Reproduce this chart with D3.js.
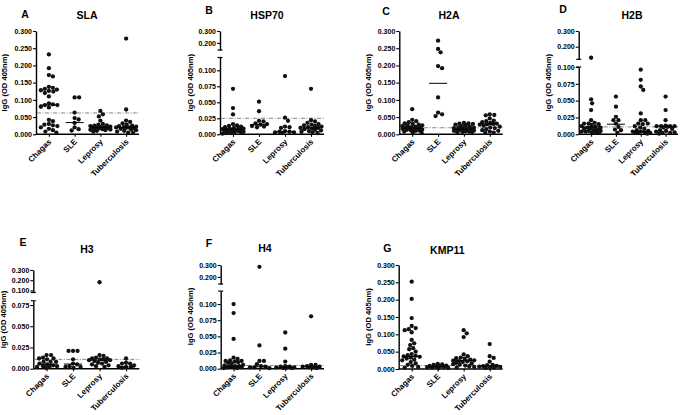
<!DOCTYPE html>
<html><head><meta charset="utf-8">
<script src="https://cdn.jsdelivr.net/npm/d3@7"></script>
<style>
html,body{margin:0;padding:0;background:#fff;}
svg text{font-family:"Liberation Sans",Arial,sans-serif;font-weight:bold;fill:#000;}
</style></head>
<body><svg id="chart" width="686" height="415"></svg>
<script>
// ---------------- DATA ----------------
const categories = ["Chagas", "SLE", "Leprosy", "Tuberculosis"];
const panelLetters = ["A", "B", "C", "D", "E", "F", "G"];
const antigens = ["SLA", "HSP70", "H2A", "H2B", "H3", "H4", "KMP11"];
const yAxisTitle = "IgG (OD 405nm)";

const slaValues = [
  [0.232,0.192,0.172,0.168,0.138,0.135,0.132,0.130,0.128,0.126,0.124,0.120,0.110,0.090,0.087,0.085,0.085,0.080,0.078,0.042,0.038,0.030,0.028,0.026,0.024,0.020,0.016,0.012,0.008,0.005],
  [0.107,0.107,0.063,0.047,0.043,0.033,0.020,0.015,0.011],
  [0.068,0.058,0.052,0.040,0.030,0.028,0.026,0.025,0.024,0.022,0.021,0.020,0.020,0.019,0.018,0.017,0.016,0.015,0.014,0.013,0.012,0.010,0.008],
  [0.278,0.072,0.040,0.036,0.032,0.028,0.025,0.024,0.022,0.021,0.020,0.020,0.019,0.018,0.016,0.014,0.012,0.010,0.008,0.005,0.004]
];
const hsp70Values = [
  [0.071,0.041,0.031,0.016,0.014,0.013,0.012,0.011,0.010,0.010,0.009,0.008,0.008,0.007,0.007,0.006,0.006,0.005,0.005,0.004,0.004,0.003,0.003,0.002,0.002,0.001],
  [0.051,0.036,0.021,0.020,0.017,0.016,0.015,0.013,0.012,0.011],
  [0.091,0.026,0.021,0.012,0.011,0.010,0.005,0.004,0.004,0.003,0.003,0.002],
  [0.071,0.022,0.020,0.018,0.016,0.015,0.014,0.013,0.012,0.011,0.010,0.010,0.009,0.008,0.007,0.006,0.005,0.004,0.003,0.002]
];
const h2aValues = [
  [0.073,0.042,0.038,0.035,0.032,0.030,0.028,0.026,0.025,0.024,0.022,0.021,0.020,0.019,0.018,0.017,0.016,0.015,0.014,0.013,0.012,0.011,0.010,0.008,0.006,0.004],
  [0.272,0.248,0.238,0.198,0.192,0.107,0.063,0.058,0.053],
  [0.033,0.032,0.031,0.030,0.028,0.026,0.024,0.022,0.020,0.019,0.018,0.017,0.016,0.015,0.014,0.013,0.012,0.011,0.010,0.009,0.008,0.007,0.006,0.005],
  [0.058,0.056,0.055,0.046,0.040,0.038,0.035,0.033,0.031,0.030,0.029,0.028,0.025,0.022,0.020,0.018,0.015,0.012,0.010,0.008,0.005,0.004]
];
const h2bValues = [
  [0.130,0.052,0.046,0.036,0.021,0.017,0.016,0.016,0.015,0.014,0.012,0.011,0.010,0.010,0.009,0.008,0.007,0.006,0.005,0.005,0.004,0.004,0.003,0.003,0.002,0.002],
  [0.056,0.041,0.026,0.021,0.021,0.016,0.011,0.007,0.006,0.002],
  [0.096,0.081,0.071,0.066,0.031,0.021,0.021,0.016,0.016,0.015,0.012,0.010,0.008,0.006,0.005,0.004,0.004,0.003,0.003,0.002,0.002,0.001],
  [0.056,0.036,0.021,0.013,0.012,0.012,0.012,0.012,0.011,0.010,0.008,0.006,0.005,0.004,0.003,0.002,0.002,0.001]
];
const h3Values = [
  [0.016,0.016,0.013,0.012,0.012,0.011,0.008,0.008,0.008,0.006,0.005,0.004,0.003,0.003,0.002,0.002,0.001],
  [0.021,0.021,0.021,0.011,0.006,0.005,0.003,0.002,0.002,0.001],
  [0.180,0.016,0.015,0.013,0.012,0.012,0.011,0.011,0.010,0.010,0.009,0.008,0.007,0.006,0.005,0.004,0.003,0.002],
  [0.012,0.007,0.006,0.006,0.004,0.003,0.002,0.002,0.001]
];
const h4Values = [
  [0.100,0.086,0.046,0.017,0.015,0.013,0.012,0.012,0.011,0.010,0.009,0.008,0.006,0.005,0.004,0.004,0.003,0.003,0.002,0.002,0.001,0.001],
  [0.285,0.036,0.012,0.012,0.007,0.004,0.003,0.002,0.002,0.001],
  [0.056,0.031,0.011,0.004,0.003,0.003,0.002,0.002,0.002,0.001,0.001],
  [0.081,0.006,0.006,0.004,0.003,0.003,0.002,0.002,0.001]
];
const kmp11Values = [
  [0.252,0.202,0.147,0.124,0.118,0.115,0.112,0.106,0.084,0.074,0.069,0.060,0.057,0.050,0.043,0.040,0.038,0.036,0.035,0.033,0.030,0.027,0.025,0.020,0.016,0.012,0.009,0.006,0.004],
  [0.015,0.013,0.012,0.010,0.009,0.008,0.007,0.006,0.005,0.004,0.003,0.002],
  [0.112,0.103,0.092,0.042,0.037,0.033,0.031,0.029,0.027,0.025,0.024,0.023,0.022,0.020,0.018,0.016,0.014,0.012,0.010,0.008,0.006,0.004],
  [0.072,0.037,0.032,0.021,0.012,0.011,0.009,0.008,0.007,0.006,0.005,0.004,0.003]
];
const panelValues = [slaValues, hsp70Values, h2aValues, h2bValues, h3Values, h4Values, kmp11Values];

// horizontal summary line per group
const medianLines = [
  [0.085, 0.034, 0.020, 0.020],
  [0.008, 0.015, 0.004, 0.010],
  [0.018, 0.148, 0.015, 0.030],
  [0.011, 0.015, 0.004, 0.012],
  [0.005, 0.0055, 0.010, 0.002],
  [0.003, 0.003, 0.002, 0.003],
  [0.036, 0.006, 0.024, 0.009]
];
// dash-dot cut-off line per antigen
const cutoffValues = [0.062, 0.025, 0.019, 0.011, 0.011, 0.005, 0.010];

// tick labels
const fullTicks = [0, 0.05, 0.10, 0.15, 0.20, 0.25, 0.30];
const brokenLowerTicks = [0, 0.025, 0.05, 0.075, 0.10];
const brokenUpperTicks = [0.20, 0.30];
const h3LowerTicks = [0, 0.025, 0.05, 0.075];
const h3UpperTicks = [0.10, 0.20, 0.30];

// ---------------- LAYOUT ----------------
const layout = [
  {x0:36,   x1:139,   y0:134.3, lo:{dom:[0,0.3],  top:31,   ticks:fullTicks},
   letter:[25,18], title:[87,19], ylab:[7,82.7]},
  {x0:220,  x1:324,   y0:134.3, lo:{dom:[0,0.12], top:57.5, ticks:brokenLowerTicks},
   up:{dom:[0.14,0.3], bottom:50, top:31, ticks:brokenUpperTicks},
   letter:[209,14], title:[267,19], ylab:[193,82.7]},
  {x0:399.3,x1:502.7, y0:134.3, lo:{dom:[0,0.3],  top:31,   ticks:fullTicks},
   letter:[386,15], title:[449,19], ylab:[371,82.7]},
  {x0:578.7,x1:678,   y0:134.3, lo:{dom:[0,0.1],  top:67,   ticks:brokenLowerTicks},
   up:{dom:[0.12,0.3], bottom:59.3, top:31, ticks:brokenUpperTicks},
   letter:[563,12.5], title:[632,19], ylab:[550.5,82.7]},
  {x0:33.3, x1:139.3, y0:368.7, lo:{dom:[0,0.08], top:300.8, ticks:h3LowerTicks},
   up:{dom:[0.08,0.3], bottom:292.5, top:270, ticks:h3UpperTicks},
   letter:[23,246], title:[87,253], ylab:[6,319.5]},
  {x0:220.7,x1:324,   y0:368.7, lo:{dom:[0,0.12], top:291.1, ticks:brokenLowerTicks},
   up:{dom:[0.14,0.3], bottom:284, top:265, ticks:brokenUpperTicks},
   letter:[209,246.5], title:[265,252], ylab:[193,316.5]},
  {x0:398.7,x1:502.7, y0:369,   lo:{dom:[0,0.3],  top:265,  ticks:fullTicks},
   letter:[387.3,252], title:[447.3,253.5], ylab:[371,317]}
];

const R = 2.15;
const svg = d3.select("#chart");
const fmt = d3.format(".3f");

function swarm(vals, yFn, cx, r, maxHalf) {
  const pts = vals.map(v => ({v, y: yFn(v)})).sort((a, b) => a.y - b.y);
  const placed = [];
  const minD = 2 * r * 0.95;
  for (const p of pts) {
    let chosen = null, bestScore = -1, bestOff = 0;
    const steps = Math.round(maxHalf * 2);
    for (let k = 0; k <= steps * 2; k++) {
      const off = (k % 2 === 1 ? 1 : -1) * Math.ceil(k / 2) * 0.5;
      if (Math.abs(off) > maxHalf) continue;
      let md = Infinity;
      for (const q of placed) {
        const d = Math.hypot(q.x - (cx + off), q.y - p.y);
        if (d < md) md = d;
      }
      if (md >= minD) { chosen = off; break; }
      if (md > bestScore) { bestScore = md; bestOff = off; }
    }
    p.x = cx + (chosen === null ? bestOff : chosen);
    placed.push(p);
  }
  return placed;
}

layout.forEach((L, i) => {
  const g = svg.append("g");
  const lo = d3.scaleLinear().domain(L.lo.dom).range([L.y0, L.lo.top]);
  const up = L.up ? d3.scaleLinear().domain(L.up.dom).range([L.up.bottom, L.up.top]) : null;
  const yFn = v => (up && v > L.lo.dom[1]) ? up(v) : lo(v);
  const x = d3.scalePoint().domain(categories).range([L.x0, L.x1]).padding(0.5);

  g.append("g").attr("transform", `translate(${L.x0},0)`)
    .call(d3.axisLeft(lo).tickValues(L.lo.ticks).tickFormat(fmt).tickSize(3).tickSizeOuter(0).tickPadding(1));
  if (up) {
    g.append("g").attr("transform", `translate(${L.x0},0)`)
      .call(d3.axisLeft(up).tickValues(L.up.ticks).tickFormat(fmt).tickSize(3).tickSizeOuter(0).tickPadding(1));
    [L.up.bottom, L.lo.top].forEach(yy => {
      g.append("line").attr("x1", L.x0 - 2.5).attr("x2", L.x0 + 2.5)
        .attr("y1", yy).attr("y2", yy).attr("stroke", "#000").attr("stroke-width", 1.2);
    });
  }
  g.selectAll(".domain").attr("stroke-width", 1.4);
  g.selectAll(".tick line").attr("stroke-width", 1.1);
  g.selectAll(".tick text").style("font-size", "7px");

  const xa = g.append("g").attr("transform", `translate(0,${L.y0})`)
    .call(d3.axisBottom(x).tickSize(2.5).tickSizeOuter(0).tickFormat(""));
  xa.select(".domain").attr("stroke-width", 1.4).attr("d", `M${L.x0},0H${L.x1}`);
  xa.selectAll(".tick line").attr("stroke-width", 1.1);
  categories.forEach(c => {
    g.append("text").attr("text-anchor", "end")
      .attr("transform", `translate(${x(c) + 3},${L.y0 + 8}) rotate(-45)`)
      .style("font-size", "8px").text(c);
  });

  g.append("line").attr("x1", L.x0 + 1).attr("x2", L.x1)
    .attr("y1", lo(cutoffValues[i])).attr("y2", lo(cutoffValues[i]))
    .attr("stroke", "#777").attr("stroke-width", 0.9).attr("stroke-dasharray", "4,1.5,1,1.5");

  const maxHalf = (x.step() / 2) - 2.5;
  categories.forEach((c, ci) => {
    const pts = swarm(panelValues[i][ci], yFn, x(c), R, maxHalf);
    g.append("g").selectAll("circle").data(pts).join("circle")
      .attr("cx", d => d.x).attr("cy", d => d.y).attr("r", R).attr("fill", "#111");
    const my = lo(medianLines[i][ci]);
    g.append("line").attr("x1", x(c) - 9).attr("x2", x(c) + 9)
      .attr("y1", my).attr("y2", my).attr("stroke", "#000").attr("stroke-width", 1);
  });

  g.append("text").attr("x", L.letter[0]).attr("y", L.letter[1]).attr("text-anchor", "middle")
    .style("font-size", "10.5px").text(panelLetters[i]);
  g.append("text").attr("x", L.title[0]).attr("y", L.title[1]).attr("text-anchor", "middle")
    .style("font-size", "10.5px").text(antigens[i]);
  g.append("text").attr("text-anchor", "middle")
    .attr("transform", `translate(${L.ylab[0]},${L.ylab[1]}) rotate(-90)`)
    .style("font-size", "7.6px").text(yAxisTitle);
});
</script></body></html>
